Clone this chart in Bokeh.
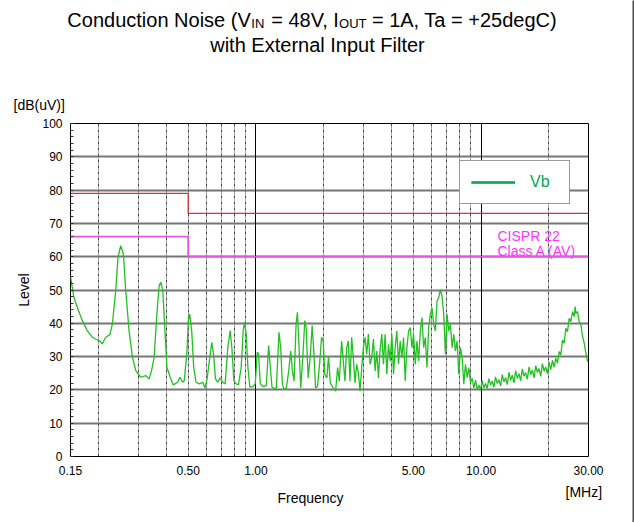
import math
from bokeh.plotting import figure
from bokeh.layouts import column, row
from bokeh.models import (Range1d, FixedTicker, SingleIntervalTicker, Grid, Label,
                          Legend, LegendItem, NumeralTickFormatter)
from bokeh.embed import file_html
from bokeh.resources import INLINE

# ---------------- data ----------------
freq_mhz = [
    0.150, 0.153, 0.1552, 0.1607, 0.1692, 0.1780, 0.1875, 0.1973, 0.2030, 0.2077,
    0.2149, 0.2245, 0.2302, 0.2382, 0.2438, 0.2507, 0.2577, 0.2639, 0.2730, 0.2827,
    0.2925, 0.3078, 0.3240, 0.3352, 0.3436, 0.3529, 0.3628, 0.3714, 0.3780, 0.3858,
    0.3940, 0.4022, 0.4159, 0.4290, 0.4487, 0.4595, 0.4724, 0.4804, 0.4938, 0.5006,
    0.5075, 0.5181, 0.5288, 0.5417, 0.5606, 0.5801, 0.5941, 0.6064, 0.6211, 0.6362,
    0.6494, 0.6606, 0.6767, 0.6930, 0.7123, 0.7295, 0.7498, 0.7679, 0.7812, 0.7974,
    0.8166, 0.8364, 0.8596, 0.8774, 0.8895, 0.9050, 0.9207, 0.9397, 0.9692, 0.9926,
    1.0132, 1.0272, 1.0449, 1.0740, 1.1114, 1.1383, 1.1580, 1.1780, 1.2313, 1.2655,
    1.2873, 1.3096, 1.3324, 1.3647, 1.3978, 1.4268, 1.4514, 1.4764, 1.5071, 1.5279,
    1.5490, 1.5811, 1.6140, 1.6475, 1.6703, 1.7050, 1.7404, 1.7765, 1.8072, 1.8384,
    1.8765, 1.9220, 1.9552, 1.9890, 2.0233, 2.0653, 2.1010, 2.1373, 2.2042, 2.2578,
    2.3047, 2.3445, 2.4013, 2.4427, 2.4849, 2.5278, 2.5715, 2.6159, 2.6611, 2.7070,
    2.7537, 2.8013, 2.8496, 2.8988, 2.9489, 2.9998, 3.0516, 3.1043, 3.1579, 3.2124,
    3.2679, 3.3243, 3.3817, 3.4401, 3.4995, 3.5599, 3.6214, 3.6840, 3.7477, 3.8124,
    3.8782, 3.9452, 4.0133, 4.0826, 4.1531, 4.2248, 4.2978, 4.3720, 4.4475, 4.5243,
    4.6024, 4.6819, 4.7627, 4.8450, 4.9286, 5.0137, 5.1003, 5.1884, 5.2779, 5.3691,
    5.4618, 5.5561, 5.6520, 5.7496, 5.8489, 5.9499, 6.0526, 6.1571, 6.2634, 6.3716,
    6.4816, 6.5935, 6.7073, 6.8232, 6.9410, 7.0608, 7.1827, 7.3068, 7.4329, 7.5613,
    7.6918, 7.8246, 7.9597, 8.0972, 8.2370, 8.3792, 8.5239, 8.6711, 8.8208, 8.9731,
    9.129, 9.286, 9.446, 9.609, 9.771, 9.940, 10.11, 10.29, 10.46, 10.64,
    10.83, 11.02, 11.20, 11.40, 11.59, 11.79, 12.00, 12.21, 12.42, 12.63,
    12.85, 13.07, 13.30, 13.53, 13.76, 14.00, 14.24, 14.49, 14.74, 14.99,
    15.25, 15.51, 15.78, 16.05, 16.33, 16.61, 16.90, 17.19, 17.49, 17.79,
    18.09, 18.41, 18.72, 19.05, 19.37, 19.71, 20.05, 20.39, 20.75, 21.11,
    21.47, 21.84, 22.22, 22.60, 22.99, 23.39, 23.79, 24.20, 24.62, 25.04,
    25.48, 25.92, 26.18, 26.36, 26.82, 27.28, 27.75, 28.23, 28.72, 29.22,
    29.72,
]
level_vb = [
    54.0, 50.5, 47.8, 44.8, 40.8, 37.8, 35.8, 35.0, 34.6, 33.8,
    35.8, 36.6, 39.8, 49.8, 59.8, 63.3, 60.8, 49.8, 37.8, 29.8,
    25.8, 23.8, 24.3, 23.3, 25.8, 29.8, 42.8, 51.3, 52.3, 49.8,
    37.8, 26.8, 23.8, 21.5, 22.3, 23.8, 22.3, 22.8, 31.8, 40.8,
    42.8, 37.8, 26.8, 22.3, 21.8, 22.3, 20.6, 23.3, 28.8, 34.3,
    30.3, 23.3, 22.3, 23.6, 22.3, 21.8, 32.8, 37.8, 32.8, 22.8,
    21.8, 21.6, 26.8, 37.8, 40.3, 36.8, 26.8, 20.8, 21.0, 21.8,
    31.3, 30.8, 21.8, 21.0, 21.3, 33.3, 26.8, 20.8, 20.3, 37.3,
    32.8, 21.8, 20.1, 20.6, 25.7, 31.7, 25.7, 22.6, 39.8, 43.3,
    34.7, 20.6, 29.7, 40.8, 38.8, 23.6, 29.7, 39.3, 31.7, 20.6,
    21.1, 28.7, 35.8, 34.7, 24.6, 23.6, 30.2, 22.1, 20.6, 19.6,
    26.7, 22.6, 34.7, 28.7, 22.6, 32.7, 34.7, 22.6, 35.8, 29.7,
    22.1, 27.7, 25.2, 19.6, 26.7, 32.7, 35.8, 30.7, 36.8, 27.7,
    29.7, 35.3, 25.7, 31.7, 23.6, 32.2, 36.8, 27.7, 36.7, 24.7,
    33.7, 28.7, 36.7, 24.7, 32.7, 37.7, 27.7, 34.7, 29.7, 35.7,
    22.7, 32.7, 37.7, 38.7, 32.7, 36.7, 27.7, 34.7, 28.7, 37.7,
    41.7, 32.7, 35.7, 26.7, 38.7, 42.7, 44.7, 39.7, 37.7, 46.7,
    47.7, 50.2, 48.2, 42.7, 30.7, 42.7, 37.7, 39.7, 32.7, 36.7,
    31.7, 34.7, 24.7, 32.7, 29.7, 21.7, 27.7, 23.7, 26.7, 22.2,
    23.5, 20.6, 22.9, 20.2, 21.4, 19.9, 22.8, 20.6, 21.9, 20.4,
    23.4, 21.5, 22.6, 20.8, 23.9, 21.9, 23.1, 21.2, 24.6, 22.4,
    23.7, 21.6, 25.3, 22.9, 24.4, 22.1, 25.8, 23.4, 24.9, 22.7,
    26.3, 24.1, 25.2, 23.2, 26.9, 24.6, 25.9, 23.6, 27.3, 25.2,
    26.4, 24.1, 27.9, 25.6, 26.9, 24.8, 28.4, 26.1, 28.9, 26.8,
    29.5, 28.0, 31.5, 30.5, 35.0, 34.0, 38.5, 37.5, 41.5, 40.5,
    43.5, 42.0, 45.0, 43.0, 43.5, 40.5, 39.5, 36.0, 34.0, 31.0,
    28.5,
]

limit_freq = [0.15, 0.5, 30.0]
cispr_qp = [79, 73, 73]
cispr_av = [66, 60, 60]

x_ticks = [0.15, 0.5, 1.0, 5.0, 10.0, 30.0]
x_dashed_grid = [0.2, 0.3, 0.4, 0.5, 0.6, 0.7, 0.8, 0.9, 2, 3, 4, 5, 6, 7, 8, 9, 20]
x_solid_grid = [1.0, 10.0]

FONT = "Liberation Sans"
W = 632
EDGE = "#4a4a4a"


def panel(width, height, fill="white"):
    f = figure(width=width, height=height, x_range=Range1d(0, width), y_range=Range1d(height, 0),
               output_backend="svg", toolbar_location=None,
               x_axis_location=None, y_axis_location=None,
               min_border_left=0, min_border_right=0, min_border_top=0, min_border_bottom=0)
    f.frame_align = False
    f.outline_line_color = None
    f.xgrid.visible = False
    f.ygrid.visible = False
    f.background_fill_color = fill
    f.border_fill_color = fill
    return f


def lab(fig, text, x, y, size, align="left", baseline="alphabetic", color="black"):
    fig.add_layout(Label(text=text, x=x, y=y, x_units="canvas", y_units="canvas",
                         text_font=FONT, text_font_size=size, text_align=align,
                         text_baseline=baseline, text_color=color))


# ---------------- title panel ----------------
top = panel(W, 118)
lab(top, "Conduction Noise (V", 250.3, 19, "20px", align="right")
lab(top, "IN", 250.8, 23, "13px")
lab(top, "= 48V, I", 338.4, 19, "20px", align="right")
lab(top, "OUT", 338.6, 23, "13px")
lab(top, "= 1A, Ta = +25degC)", 371.4, 19, "20px")
lab(top, "with External Input Filter", 317, 44, "20px", align="center")
lab(top, "[dB(uV)]", 13, 104, "14px")

# ---------------- main plot ----------------
p = figure(width=W, height=360, x_axis_type="log",
           x_range=Range1d(0.15, 30), y_range=Range1d(0, 100),
           output_backend="svg", toolbar_location=None,
           min_border_left=70, min_border_right=44,
           min_border_top=5, min_border_bottom=22)
p.frame_align = False
p.outline_line_color = "black"
p.outline_line_width = 1

xa = p.xaxis[0]
xa.ticker = FixedTicker(ticks=x_ticks)
xa.formatter = NumeralTickFormatter(format="0.00")
xa.major_tick_line_color = None
xa.minor_tick_line_color = None
xa.axis_line_color = None
xa.major_label_standoff = 3
xa.major_label_text_font = FONT
xa.major_label_text_font_size = "12px"
xa.major_label_text_color = "black"

ya = p.yaxis[0]
ya.ticker = SingleIntervalTicker(interval=10, num_minor_ticks=5)
ya.major_tick_in = 0
ya.major_tick_out = 0
ya.minor_tick_in = 3
ya.minor_tick_out = 0
ya.minor_tick_line_color = "#333333"
ya.axis_line_color = None
ya.major_label_standoff = 8
ya.major_label_text_font = FONT
ya.major_label_text_font_size = "12px"
ya.major_label_text_color = "black"
ya.axis_label = "Level"
ya.axis_label_standoff = 7
ya.axis_label_text_font = FONT
ya.axis_label_text_font_size = "14px"
ya.axis_label_text_font_style = "normal"
ya.axis_label_text_color = "black"

p.ygrid.grid_line_color = "#767676"
p.ygrid.grid_line_width = 2
p.xgrid.ticker = FixedTicker(ticks=x_dashed_grid)
p.xgrid.grid_line_color = "#444444"
p.xgrid.grid_line_width = 1
p.xgrid.grid_line_dash = "3 1 1 1"
p.add_layout(Grid(dimension=0, ticker=FixedTicker(ticks=x_solid_grid),
                  grid_line_color="black", grid_line_width=1))

p.step(limit_freq, cispr_qp, mode="after", line_color="#d03535", line_width=1.3)
p.step(limit_freq, cispr_av, mode="after", line_color="#e455e4", line_width=1.8)

curve = p.line(freq_mhz, level_vb, line_color="#22c022", line_width=1.3)
# hidden twin of the curve, only used to draw a bolder legend key
legend_key = p.line(freq_mhz, level_vb, line_color="#00a84f", line_width=2.6, visible=False)

legend = Legend(items=[LegendItem(label="Vb", renderers=[curve, legend_key])],
                location=(389, 252), margin=0, padding=11, spacing=0,
                glyph_width=44, glyph_height=20, label_standoff=15,
                label_width=28, label_height=20,
                border_line_color="#333333", border_line_width=1.5,
                background_fill_color="white", background_fill_alpha=1.0,
                label_text_font=FONT, label_text_font_size="16px",
                label_text_color="#00a84f")
p.add_layout(legend)

lab(p, "CISPR 22", 497, 117, "14px", color="#ff33ff")
lab(p, "Class A (AV)", 497, 132, "14px", color="#ff33ff")

# ---------------- bottom panel ----------------
bottom = panel(W, 42)
lab(bottom, "Frequency", 310, 19, "14px", align="center")
lab(bottom, "[MHz]", 565, 13, "14px")

# thin dark edges on the right and at the bottom
hline = panel(W, 2, fill=EDGE)
vline = panel(2, 522, fill=EDGE)

layout = row(column(top, p, bottom, hline, spacing=0), vline, spacing=0)

open("out.html", "w").write(file_html(layout, INLINE))
